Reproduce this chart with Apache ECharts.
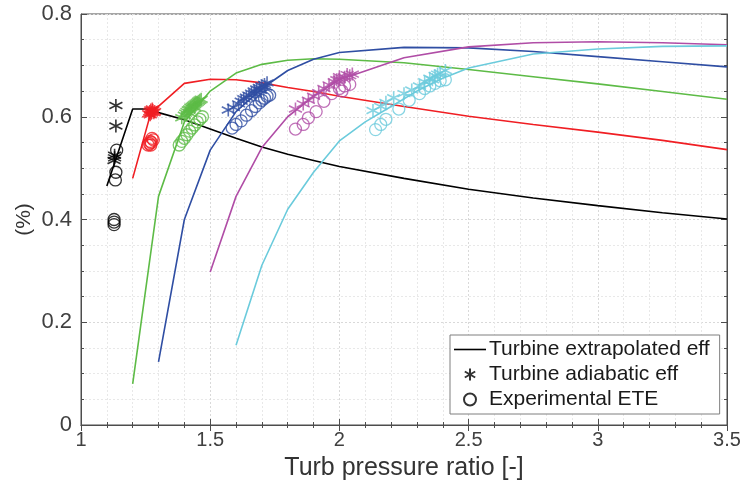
<!DOCTYPE html>
<html><head><meta charset="utf-8">
<script src="https://cdn.jsdelivr.net/npm/echarts@6/dist/echarts.min.js"></script>
<style>html,body{margin:0;padding:0;background:#fff}#c{width:746px;height:502px}</style>
</head><body><div id="c"></div>
<script>
// ---- data ----
const blackLine = [[1.1,0.465],[1.2,0.615],[1.25,0.615],[1.3,0.608],[1.4,0.594],[1.5,0.576],[1.6,0.558],[1.7,0.541],[1.8,0.527],[1.9,0.515],[2.0,0.503],[2.25,0.480],[2.5,0.459],[2.75,0.442],[3.0,0.427],[3.25,0.413],[3.5,0.401]];
const redLine = [[1.2,0.48],[1.27,0.607],[1.4,0.665],[1.5,0.673],[1.6,0.672],[1.7,0.666],[1.8,0.657],[1.9,0.649],[2.0,0.64],[2.25,0.62],[2.5,0.601],[2.75,0.585],[3.0,0.570],[3.25,0.554],[3.5,0.536]];
const greenLine = [[1.2,0.08],[1.3,0.445],[1.4,0.59],[1.5,0.65],[1.6,0.685],[1.7,0.702],[1.8,0.71],[1.9,0.713],[2.0,0.712],[2.25,0.705],[2.5,0.692],[2.75,0.678],[3.0,0.664],[3.25,0.649],[3.5,0.634]];
const blueLine = [[1.3,0.123],[1.4,0.40],[1.5,0.535],[1.6,0.61],[1.7,0.655],[1.8,0.69],[1.9,0.712],[2.0,0.725],[2.25,0.735],[2.5,0.734],[2.75,0.727],[3.0,0.717],[3.25,0.707],[3.5,0.697]];
const magentaLine = [[1.5,0.298],[1.6,0.445],[1.7,0.54],[1.8,0.60],[1.9,0.64],[2.0,0.672],[2.25,0.715],[2.5,0.736],[2.75,0.744],[3.0,0.746],[3.25,0.744],[3.5,0.740]];
const cyanLine = [[1.6,0.155],[1.7,0.311],[1.8,0.42],[1.9,0.492],[2.0,0.553],[2.1,0.59],[2.2,0.62],[2.3,0.65],[2.4,0.675],[2.5,0.695],[2.75,0.722],[3.0,0.732],[3.25,0.737],[3.5,0.738]];

const blackStars = [[1.135,0.622],[1.135,0.582],[1.13,0.525],[1.128,0.515],[1.13,0.52]];
const blackCircles = [[1.138,0.535],[1.135,0.492],[1.133,0.477],[1.128,0.40],[1.128,0.395],[1.128,0.39]];
const redStars = [[1.262,0.606],[1.266,0.61],[1.27,0.613],[1.274,0.609],[1.278,0.612],[1.282,0.608],[1.268,0.604],[1.276,0.615],[1.285,0.61],[1.272,0.607]];
const redCircles = [[1.26,0.545],[1.265,0.548],[1.268,0.552],[1.272,0.55],[1.275,0.558],[1.27,0.545],[1.28,0.555]];
const greenStars = [[1.39,0.598],[1.40,0.603],[1.405,0.607],[1.41,0.61],[1.415,0.613],[1.42,0.615],[1.425,0.618],[1.43,0.62],[1.435,0.622],[1.44,0.624],[1.445,0.626],[1.45,0.628],[1.455,0.63],[1.46,0.632],[1.465,0.634],[1.42,0.607],[1.44,0.618]];
const greenCircles = [[1.38,0.545],[1.39,0.552],[1.40,0.558],[1.41,0.565],[1.42,0.572],[1.43,0.578],[1.44,0.584],[1.45,0.59],[1.46,0.595],[1.47,0.6]];
const blueStars = [[1.57,0.613],[1.59,0.618],[1.61,0.625],[1.62,0.63],[1.63,0.635],[1.64,0.638],[1.65,0.642],[1.66,0.646],[1.67,0.65],[1.68,0.654],[1.69,0.657],[1.70,0.66],[1.71,0.663],[1.72,0.666],[1.675,0.645],[1.695,0.652],[1.715,0.658]];
const blueCircles = [[1.585,0.578],[1.60,0.585],[1.62,0.592],[1.64,0.603],[1.66,0.612],[1.675,0.62],[1.69,0.627],[1.70,0.632],[1.71,0.636],[1.72,0.64],[1.73,0.642]];
const magentaStars = [[1.83,0.615],[1.86,0.625],[1.88,0.632],[1.90,0.64],[1.92,0.647],[1.94,0.655],[1.96,0.662],[1.98,0.668],[2.0,0.673],[2.02,0.677],[2.04,0.68],[2.05,0.683],[2.0,0.678],[2.03,0.682],[1.99,0.672]];
const magentaCircles = [[1.83,0.576],[1.86,0.585],[1.88,0.598],[1.91,0.61],[1.94,0.63],[1.97,0.645],[2.0,0.655],[2.02,0.66],[2.04,0.663],[2.01,0.65]];
const cyanStars = [[2.13,0.612],[2.16,0.62],[2.18,0.628],[2.21,0.637],[2.25,0.645],[2.28,0.652],[2.31,0.66],[2.33,0.668],[2.35,0.675],[2.37,0.68],[2.39,0.685],[2.41,0.69],[2.36,0.672],[2.38,0.683]];
const cyanCircles = [[2.14,0.575],[2.16,0.585],[2.18,0.595],[2.23,0.615],[2.27,0.632],[2.31,0.645],[2.33,0.655],[2.35,0.66],[2.37,0.665],[2.39,0.67],[2.41,0.672]];

const legendNames = ['Turbine extrapolated eff','Turbine adiabatic eff','Experimental ETE'];
const xAxisName = 'Turb pressure ratio [-]';
const yAxisName = '(%)';

// ---- styles ----
const colors = {black:'#000000', red:'#f01e23', green:'#5dbb46', blue:'#2f4ea3', magenta:'#b04da6', cyan:'#6bcbdc'};
const starPath = 'path://M0,-10L0,10M-8.66,-5L8.66,5M-8.66,5L8.66,-5';
const lineIcon = 'path://M0,0H40V2H0Z';

function lineSeries(name, data, color){
  return {type:'line', name, data, symbol:'none', smooth:false, lineStyle:{color, width:1.6}, itemStyle:{color}, z:3, silent:true, animation:false};
}
function starSeries(name, data, color){
  return {type:'scatter', name, data, symbol:starPath, symbolSize:13, itemStyle:{color:'none', borderColor:color, borderWidth:1.6}, z:4, animation:false};
}
function circleSeries(name, data, color){
  return {type:'scatter', name, data, symbol:'circle', symbolSize:12, itemStyle:{color:'rgba(0,0,0,0)', borderColor:color, borderWidth:1.3}, z:4, animation:false};
}

const series = [
  lineSeries(legendNames[0], blackLine, colors.black),
  starSeries(legendNames[1], blackStars, colors.black),
  circleSeries(legendNames[2], blackCircles, colors.black),
  lineSeries('r', redLine, colors.red), starSeries('rs', redStars, colors.red), circleSeries('rc', redCircles, colors.red),
  lineSeries('g', greenLine, colors.green), starSeries('gs', greenStars, colors.green), circleSeries('gc', greenCircles, colors.green),
  lineSeries('b', blueLine, colors.blue), starSeries('bs', blueStars, colors.blue), circleSeries('bc', blueCircles, colors.blue),
  lineSeries('m', magentaLine, colors.magenta), starSeries('ms', magentaStars, colors.magenta), circleSeries('mc', magentaCircles, colors.magenta),
  lineSeries('c', cyanLine, colors.cyan), starSeries('cs', cyanStars, colors.cyan), circleSeries('cc', cyanCircles, colors.cyan)
];

const axisCol = '#4d4d4d';
const font = 'Liberation Sans, Arial, sans-serif';
const gridLine = {show:true, lineStyle:{color:'#d9d9d9', type:[2,2], width:1}};
const minorGrid = {show:true, lineStyle:{color:'#e8e8e8', type:[2,2], width:1}};

const chart = echarts.init(document.getElementById('c'), null, {renderer:'canvas'});
chart.setOption({
  animation:false,
  backgroundColor:'#ffffff',
  grid:{left:81, right:19, top:14, bottom:77, show:true, borderColor:axisCol, borderWidth:1, containLabel:false, outerBoundsMode:'none'},
  legend:{
    data:[
      {name:legendNames[0], icon:lineIcon, itemStyle:{color:'#000', borderWidth:0}},
      {name:legendNames[1]},
      {name:legendNames[2]}
    ],
    orient:'vertical', left:450, top:335,
    backgroundColor:'#ffffff', borderColor:'#7f7f7f', borderWidth:1, padding:[4,10,4,4],
    itemGap:4, itemWidth:32, itemHeight:12,
    textStyle:{fontFamily:font, fontSize:21, color:'#1a1a1a', padding:[0,0,0,-2]}
  },
  xAxis:[{
    type:'value', min:1, max:3.5, interval:0.5,
    name:xAxisName, nameLocation:'middle', nameGap:31, nameMoveOverlap:false,
    nameTextStyle:{fontFamily:font, fontSize:25, color:'#333'},
    axisLine:{show:true, lineStyle:{color:axisCol}},
    axisTick:{show:true, inside:true, length:6, lineStyle:{color:axisCol}},
    minorTick:{show:true, splitNumber:5, length:3, lineStyle:{color:axisCol}},
    axisLabel:{fontFamily:font, fontSize:20, color:'#404040', margin:5},
    splitLine:gridLine, minorSplitLine:minorGrid
  },{
    type:'value', min:1, max:3.5, interval:0.5, position:'top',
    axisLine:{show:true, lineStyle:{color:axisCol}},
    axisTick:{show:true, inside:true, length:6, lineStyle:{color:axisCol}},
    minorTick:{show:true, splitNumber:5, length:3, lineStyle:{color:axisCol}},
    axisLabel:{show:false}, splitLine:{show:false}
  }],
  yAxis:[{
    type:'value', min:0, max:0.8, interval:0.2,
    name:yAxisName, nameLocation:'middle', nameGap:46, nameRotate:90, nameMoveOverlap:false,
    nameTextStyle:{fontFamily:font, fontSize:21, color:'#333'},
    axisLine:{show:true, lineStyle:{color:axisCol}},
    axisTick:{show:true, inside:true, length:6, lineStyle:{color:axisCol}},
    minorTick:{show:true, splitNumber:4, length:3, lineStyle:{color:axisCol}},
    axisLabel:{fontFamily:font, fontSize:22, color:'#404040', margin:9},
    splitLine:gridLine, minorSplitLine:minorGrid
  },{
    type:'value', min:0, max:0.8, interval:0.2, position:'right',
    axisLine:{show:true, lineStyle:{color:axisCol}},
    axisTick:{show:true, inside:true, length:6, lineStyle:{color:axisCol}},
    minorTick:{show:true, splitNumber:4, length:3, lineStyle:{color:axisCol}},
    axisLabel:{show:false}, splitLine:{show:false}
  }],
  series
});
</script>
</body></html>
